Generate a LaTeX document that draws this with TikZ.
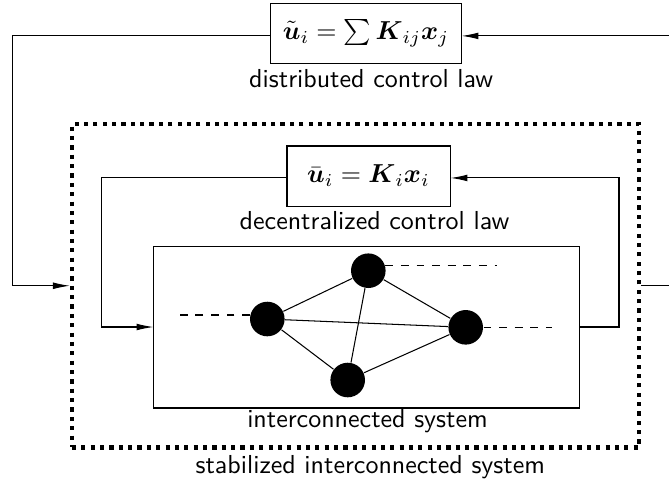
\documentclass[tikz,border=0pt]{standalone}
\usepackage{amsmath}
\usetikzlibrary{arrows.meta}
\begin{document}
\begin{tikzpicture}[x=0.3846pt,y=-0.3846pt,
  font=\sffamily,
  >={Latex[length=6.5pt,width=2.6pt]},
  lawbox/.style={draw, inner sep=0pt, minimum height=23.1pt},
  agent/.style={circle, fill=black, inner sep=0pt, minimum size=13.3pt},
  caption/.style={anchor=base, inner sep=0pt}]
\useasboundingbox (0,0) rectangle (669,483);

% distributed controller on top
\node[lawbox, minimum width=73.1pt] (dist) at (366,33.3)
  {$\tilde{\boldsymbol{u}}_i = \sum \boldsymbol{K}_{ij}\boldsymbol{x}_j$};
\node[caption] (distcap) at (371.2,87) {distributed control law};

% stabilized system (dotted frame)
\node[draw, ultra thick, dotted, inner sep=0pt,
      minimum width=218.1pt, minimum height=124.4pt] (stab) at (355.5,285.75) {};
\node[caption] (stabcap) at (370.3,473.3) {stabilized interconnected system};

% decentralized controller
\node[lawbox, minimum width=62.7pt] (dec) at (368.5,176)
  {$\bar{\boldsymbol{u}}_i = \boldsymbol{K}_i\boldsymbol{x}_i$};
\node[caption] (deccap) at (374.5,229) {decentralized control law};

% interconnected plant
\node[draw, inner sep=0pt, minimum width=163.5pt, minimum height=62.3pt] (plant) at (366.5,327) {};
\node[caption] (plantcap) at (367.5,427.5) {interconnected system};

% subsystems
\node[agent] (n1) at (267.3,319) {};
\node[agent] (n2) at (368.3,270.7) {};
\node[agent] (n3) at (465.7,327.3) {};
\node[agent] (n4) at (347.7,380) {};

\draw (n1) -- (n2);
\draw (n1) -- (n3);
\draw (n1) -- (n4);
\draw (n2) -- (n3);
\draw (n2) -- (n4);
\draw (n4) -- (n3);

% couplings to further subsystems
\coordinate (dl) at (178,315);
\coordinate (dt) at (497,266);
\coordinate (dr) at (552,327.3);
\draw[dashed] (n1.167) -- (n1.167 -| dl);
\draw[dashed] (n2.17) -- (n2.17 -| dt);
\draw[dashed] (n3.east) -- (dr);

% feedback loops
\coordinate (outL) at (12.3,160);
\coordinate (outR) at (676,160);
\coordinate (inL) at (101.7,250);
\coordinate (inR) at (619,250);
\draw[->] ([yshift=-1pt]dist.west) -| (outL) |- (stab.west);
\draw[<-] ([yshift=-1pt]dist.east) -| (outR) |- (stab.east);
\draw[->] ([yshift=-0.75pt]dec.west) -| (inL) |- (plant.west);
\draw[<-] ([yshift=-0.75pt]dec.east) -| (inR) |- (plant.east);
\end{tikzpicture}
\end{document}
